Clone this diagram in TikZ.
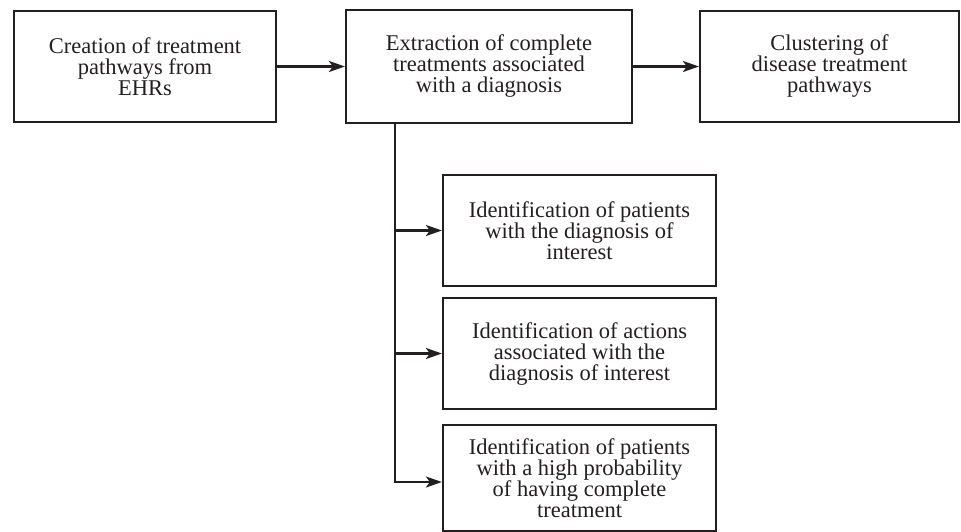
\documentclass[tikz,border=0pt]{standalone}
\usepackage{fontspec}
\setmainfont{Liberation Serif}
\usetikzlibrary{arrows.meta}
\definecolor{ink}{HTML}{231F20}
\begin{document}
\begin{tikzpicture}[x=1pt,y=1pt,
  boxnode/.style={draw=ink, line width=2.2pt, text=ink, align=center, inner sep=0pt,
    font=\fontsize{22.5}{21}\selectfont},
  arr/.style={draw=ink, line width=2.2pt, -{Stealth[length=16pt,width=11pt,inset=4pt]}}]
\useasboundingbox (0,0) rectangle (961,-531);
\node[boxnode, minimum width=262pt, minimum height=111pt] (b1) at (145,-66.5) {Creation of treatment\\pathways from\\EHRs};
\node[boxnode, minimum width=286pt, minimum height=113pt] (b2) at (489,-66.5) {Extraction of complete\\treatments associated\\with a diagnosis};
\node[boxnode, minimum width=259pt, minimum height=111pt] (b3) at (829.5,-66.5) {Clustering of\\disease treatment\\pathways};
\node[boxnode, minimum width=273pt, minimum height=111pt] (b4) at (579.5,-230.5) {Identification of patients\\with the diagnosis of\\interest};
\node[boxnode, minimum width=273pt, minimum height=111pt] (b5) at (579.5,-353.5) {Identification of actions\\associated with the\\diagnosis of interest};
\node[boxnode, minimum width=273pt, minimum height=106pt] (b6) at (579.5,-478) {Identification of patients\\with a high probability\\of having complete\\treatment};
\draw[arr] (b1.east) -- (b2.west);
\draw[arr] (b2.east) -- (b3.west);
\coordinate (t0) at ([xshift=-94pt]b2.south);
\coordinate (t6) at ([yshift=-4pt]b6.west);
\draw[arr] (t0) |- (t6);
\draw[arr] (t0 |- b4.west) -- (b4.west);
\draw[arr] (t0 |- b5.west) -- (b5.west);
\end{tikzpicture}
\end{document}
